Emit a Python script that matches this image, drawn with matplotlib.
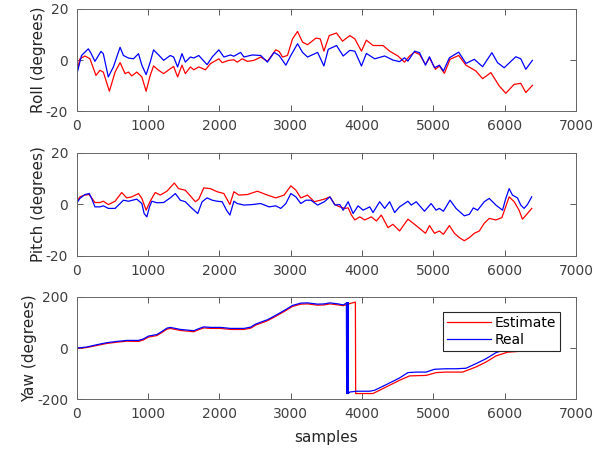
import numpy as np
import matplotlib
matplotlib.use("Agg")
import matplotlib.pyplot as plt

plt.rcParams['font.family'] = 'DejaVu Sans'
plt.rcParams['axes.unicode_minus'] = False

# ---- roll (degrees) ----
roll_real_s = [0, 70, 165, 197, 258, 342, 375, 445, 516, 610, 657, 727, 797, 868, 915, 975, 1032, 1079,
               1150, 1220, 1313, 1360, 1416, 1477, 1524, 1595, 1642, 1712, 1829, 1900, 1993, 2064, 2157,
               2204, 2298, 2345, 2462, 2580, 2674, 2768, 2838, 2932, 3002, 3096, 3166, 3236, 3377, 3465,
               3526, 3642, 3735, 3828, 3898, 3991, 4060, 4177, 4316, 4432, 4525, 4595, 4642, 4735, 4805,
               4888, 4944, 5014, 5083, 5139, 5223, 5353, 5455, 5572, 5688, 5818, 5897, 5990, 6153, 6223,
               6293, 6386]
roll_real = [-6, 1.8, 4.4, 3, -0.5, 3.4, 2.5, -6.6, -2.7, 5, 1.8, 0.8, 0.5, 2.5, -2, -5.7, -0.8, 4,
             2, -0.1, 1.8, 1.2, -2.7, 2.5, -0.8, 1.2, 0.8, 1.8, -1.8, 1.2, 4, 1.2, 2,
             1.5, 3, 1.2, 2, 1.8, -0.8, 3, 1.8, -2, 1.8, 6.4, 3, 1.2, 3, -2.3,
             4.2, 5.7, 1.6, 3.8, 3.5, -2.3, 2.6, 0.5, 1.6, 0, -0.6, 0.9, -0.4, 3.5, 2.9,
             -2, 1.3, -3, -2, -4.3, 0.9, 3.1, -1.3, 0.3, -2.6, 2.9, -1, -3, 1.3, 0.5,
             -3.6, -0.1]
roll_est_s = [0, 47, 117, 188, 272, 328, 375, 460, 540, 610, 680, 727, 774, 844, 915, 975, 1032, 1079,
              1150, 1220, 1313, 1360, 1416, 1477, 1524, 1595, 1642, 1712, 1806, 1876, 1993, 2040, 2134,
              2204, 2251, 2321, 2392, 2486, 2580, 2674, 2791, 2838, 2885, 2955, 3025, 3096, 3166, 3236,
              3353, 3414, 3465, 3540, 3642, 3726, 3828, 3898, 3991, 4060, 4153, 4293, 4386, 4502, 4595,
              4665, 4735, 4805, 4888, 4944, 5028, 5083, 5153, 5232, 5353, 5455, 5595, 5688, 5804, 5920,
              6013, 6130, 6223, 6293, 6386]
roll_est = [-5.3, 0.5, 1.6, 0.5, -6, -4, -4.7, -12.2, -4.7, -1, -5.3, -4.7, -6.2, -4.7, -6.6, -12.2, -6, -2.3,
            -4, -5.3, -3.4, -2.5, -6.6, -2, -5.3, -2.7, -3.8, -2.7, -3.8, -1.4, 0.5, -1, -0.1,
            0.1, -0.8, 0.5, -0.5, -0.1, 1.2, -0.5, 4, 3.4, 1.2, 1.8, 8.3, 11.2, 7, 6,
            8.6, 8.3, 3.5, 9.6, 10.6, 7.4, 9.6, 8.3, 3.5, 7.8, 5.7, 5.7, 3.5, 1.6, -0.8,
            1.6, 3.1, 2.2, -1.7, 0.9, -3.6, -2.3, -5.2, 0.3, 1.8, -2, -4.3, -7.3, -4.9, -10.1,
            -13, -9.5, -9.1, -12.7, -9.9]

# ---- pitch (degrees) ----
pitch_real_s = [0, 47, 117, 178, 211, 258, 328, 375, 446, 540, 610, 657, 727, 844, 915, 947, 985, 1022,
                1055, 1126, 1220, 1313, 1384, 1454, 1524, 1595, 1698, 1759, 1829, 1900, 1970, 2040, 2101,
                2148, 2204, 2251, 2345, 2462, 2580, 2697, 2791, 2861, 2932, 3002, 3072, 3142, 3212, 3283,
                3377, 3471, 3549, 3619, 3688, 3735, 3805, 3874, 3944, 4014, 4107, 4153, 4246, 4316, 4386,
                4456, 4525, 4642, 4688, 4758, 4874, 4967, 5037, 5083, 5139, 5232, 5316, 5432, 5502, 5558,
                5618, 5711, 5781, 5874, 5967, 6013, 6060, 6106, 6176, 6223, 6269, 6316, 6376]
pitch_real = [0.3, 2.3, 3.8, 4.2, 2.3, -1, -1, -0.6, -1.6, -1.6, 0.3, 1.6, 1.2, 2, 0.3, -3.6, -4.9, -1,
              1.2, 0.6, 0.7, 2.5, 4.2, 1.6, 1, -1, -3.6, 1, 2.5, 1.6, 1.2, 1, -2.3,
              -4.2, 1.2, 0.3, -0.3, -0.1, 0.3, -1, -0.6, -1.6, 0.3, 4.2, 2.9, 0.3, 1.6, 1.6,
              -0.3, 1, 2.9, -0.3, -0.1, -2.3, 1, -3.6, -0.6, -2.3, -1, -3.2, 1, -1.6, 1,
              -3.2, -1, 1.2, -0.3, 1, -2.7, 0.3, -2.3, -1.6, -2.7, 1.6, -1.6, -4.5, -3.9, -1.4,
              -2.3, 1, 2.3, -0.3, -2.3, 2.3, 6.1, 3.6, 2.5, -0.3, -1.6, -0.1, 2.9]
pitch_est_s = [0, 47, 117, 178, 258, 328, 375, 446, 540, 633, 703, 774, 868, 915, 975, 1032, 1102, 1173,
               1266, 1370, 1430, 1524, 1665, 1712, 1782, 1876, 1970, 2064, 2148, 2204, 2274, 2392, 2533,
               2674, 2791, 2908, 3002, 3072, 3142, 3236, 3330, 3471, 3549, 3619, 3688, 3758, 3805, 3851,
               3898, 3967, 4037, 4130, 4200, 4269, 4363, 4432, 4525, 4642, 4735, 4805, 4888, 4944, 5014,
               5083, 5139, 5223, 5293, 5362, 5432, 5502, 5572, 5642, 5711, 5781, 5874, 5958, 6060, 6130,
               6199, 6246, 6316, 6376]
pitch_est = [1, 2.9, 3.6, 3.8, 0.7, 0.7, 1.2, -0.1, 1.2, 4.6, 2.5, 2.9, 4.2, 2.3, -2.3, 1.2, 4.6, 3.6,
             5.1, 8.3, 6.1, 5.5, 1, 2, 6.4, 6.1, 4.9, 4.2, -0.1, 4.9, 3.6, 3.8, 5.1,
             3.6, 2.5, 3.6, 7.2, 5.5, 2.5, 3.6, 1, 2, 2.9, -0.1, -1, -1.6, -1.4, -4.2,
             -6.1, -4.9, -6.1, -4.9, -6.5, -4.2, -9.1, -7.8, -10.4, -5.8, -7.8, -9.4, -11.3, -8.3, -11.3,
             -10.4, -11.7, -8.3, -11.3, -13, -14.2, -13, -11.3, -10.4, -7.4, -5.5, -6.1, -5.2, 2.9, 1,
             -2.3, -5.8, -3.6, -1.6]

# ---- yaw (degrees) ----
yaw_real_s = [0, 141, 281, 422, 563, 703, 868, 938, 1008, 1126, 1196, 1266, 1313, 1454, 1642, 1712, 1782,
              1876, 2017, 2157, 2345, 2439, 2509, 2674, 2768, 2908, 3025, 3142, 3236, 3377, 3471, 3549,
              3665, 3735, 3780, 3784, 3788, 3792, 3796, 3800, 3804, 3808, 3828, 3921, 4107, 4177, 4339,
              4525, 4642, 4758, 4898, 5014, 5176, 5316, 5455, 5595, 5734, 5874, 6013, 6150]
yaw_real = [0, 4, 13, 21, 26, 30, 30, 36, 47, 53, 65, 78, 81, 73, 68, 76, 83,
            81, 81, 77, 77, 82, 94, 111, 125, 147, 167, 176, 177, 172, 173, 177,
            173, 169, 176, -178, 178, -178, 178, -178, 178, -178, -172, -169, -169, -165, -143,
            -117, -96, -94, -94, -83, -81, -81, -79, -61, -42, -18, -5, -2]
yaw_est_s = [0, 141, 281, 422, 563, 703, 868, 938, 1008, 1126, 1196, 1266, 1313, 1454, 1642, 1712, 1782,
             1876, 2017, 2157, 2345, 2439, 2509, 2674, 2768, 2908, 3025, 3142, 3236, 3377, 3471, 3549,
             3665, 3735, 3800, 3906, 3910, 4153, 4339, 4525, 4665, 4898, 5037, 5176, 5409, 5595, 5734,
             5874, 6037, 6199, 6386]
yaw_est = [-1, 2, 10, 18, 23, 27, 26, 32, 43, 49, 61, 74, 77, 69, 64, 72, 79,
           77, 77, 73, 73, 78, 90, 107, 121, 143, 163, 172, 173, 168, 169, 173,
           169, 166, 172, 180, -178, -178, -152, -126, -109, -107, -96, -94, -94, -74, -55,
           -31, -16, -13, -13]

fig = plt.figure(figsize=(6.05, 4.5), dpi=100)
grey = '0.25'

def setup(ax, ylim, yticks, ylabel):
    ax.set_xlim(0, 7000)
    ax.set_ylim(*ylim)
    ax.set_xticks(range(0, 7001, 1000))
    ax.set_yticks(yticks)
    ax.tick_params(direction='in', top=True, right=True, length=4, width=0.6,
                   colors=grey, labelsize=10, pad=6)
    for sp in ax.spines.values():
        sp.set_color('0.4')
        sp.set_linewidth(0.7)
    ax.set_ylabel(ylabel, fontsize=11, color='0.15', labelpad=0)

ax1 = fig.add_axes([0.1265, 0.753, 0.826, 0.227])
ax1.plot(roll_est_s, roll_est, color='r', lw=0.9)
ax1.plot(roll_real_s, roll_real, color='b', lw=0.9)
setup(ax1, (-20, 20), [-20, 0, 20], 'Roll (degrees)')

ax2 = fig.add_axes([0.1265, 0.432, 0.826, 0.228])
ax2.plot(pitch_est_s, pitch_est, color='r', lw=0.9)
ax2.plot(pitch_real_s, pitch_real, color='b', lw=0.9)
setup(ax2, (-20, 20), [-20, 0, 20], 'Pitch (degrees)')

ax3 = fig.add_axes([0.1265, 0.113, 0.826, 0.227])
ax3.plot(yaw_est_s, yaw_est, color='r', lw=0.9, label='Estimate')
ax3.plot(yaw_real_s, yaw_real, color='b', lw=0.9, label='Real')
setup(ax3, (-200, 200), [-200, 0, 200], 'Yaw (degrees)')
ax3.set_xlabel('samples', fontsize=11, color='0.15', labelpad=6)
leg = ax3.legend(loc='upper right', bbox_to_anchor=(0.968, 0.853), borderaxespad=0,
                 fontsize=10, handlelength=3.2, handletextpad=0.25, borderpad=0.3,
                 labelspacing=0.2, fancybox=False, framealpha=1)
leg.get_frame().set_edgecolor('0.15')
leg.get_frame().set_linewidth(0.8)

fig.savefig('out.png', dpi=100)
